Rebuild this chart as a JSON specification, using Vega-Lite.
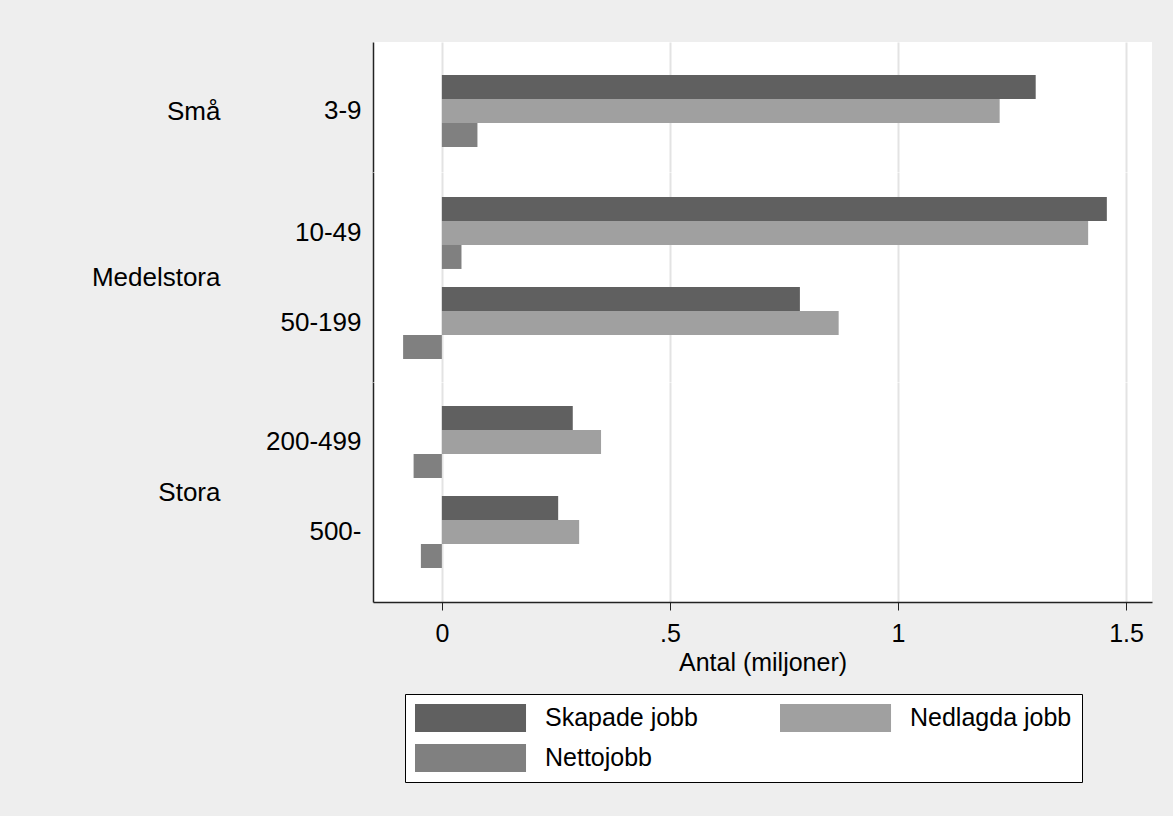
{
  "$schema": "https://vega.github.io/schema/vega-lite/v6.json",
  "background": "#eeeeee",
  "padding": {"left": 91, "top": 42, "right": 21, "bottom": 34},
  "config": {
    "font": "Liberation Sans",
    "view": {"stroke": null, "fill": "white"},
    "concat": {"spacing": 0},
    "axisY": {"ticks": false, "domainColor": "#222222", "domainWidth": 1.5, "labelFontSize": 26, "labelColor": "black", "labelPadding": 12, "labelAlign": "right", "titleAngle": 0, "titleAlign": "right", "titleBaseline": "middle", "titleFontSize": 26, "titleFontWeight": "normal", "titleColor": "black", "titleX": -153}
  },
  "datasets": {
    "jobs": [
      {"storlek": "3-9", "grupp": "Små", "serie": "Skapade jobb", "antal": 1.302},
      {"storlek": "3-9", "grupp": "Små", "serie": "Nedlagda jobb", "antal": 1.223},
      {"storlek": "3-9", "grupp": "Små", "serie": "Nettojobb", "antal": 0.078},
      {"storlek": "10-49", "grupp": "Medelstora", "serie": "Skapade jobb", "antal": 1.458},
      {"storlek": "10-49", "grupp": "Medelstora", "serie": "Nedlagda jobb", "antal": 1.417},
      {"storlek": "10-49", "grupp": "Medelstora", "serie": "Nettojobb", "antal": 0.043},
      {"storlek": "50-199", "grupp": "Medelstora", "serie": "Skapade jobb", "antal": 0.785},
      {"storlek": "50-199", "grupp": "Medelstora", "serie": "Nedlagda jobb", "antal": 0.870},
      {"storlek": "50-199", "grupp": "Medelstora", "serie": "Nettojobb", "antal": -0.085},
      {"storlek": "200-499", "grupp": "Stora", "serie": "Skapade jobb", "antal": 0.287},
      {"storlek": "200-499", "grupp": "Stora", "serie": "Nedlagda jobb", "antal": 0.349},
      {"storlek": "200-499", "grupp": "Stora", "serie": "Nettojobb", "antal": -0.062},
      {"storlek": "500-", "grupp": "Stora", "serie": "Skapade jobb", "antal": 0.255},
      {"storlek": "500-", "grupp": "Stora", "serie": "Nedlagda jobb", "antal": 0.301},
      {"storlek": "500-", "grupp": "Stora", "serie": "Nettojobb", "antal": -0.046}
    ]
  },
  "vconcat": [
    {
      "width": 779, "height": 130,
      "data": {"name": "jobs"},
      "transform": [{"filter": "datum.grupp === 'Små'"}],
      "mark": {"type": "bar"},
      "encoding": {
        "y": {"field": "storlek", "type": "nominal", "sort": ["3-9"], "scale": {"paddingInner": 0.2, "paddingOuter": 0.3222, "align": 0.569}, "axis": {"title": "Små", "titleY": 69}},
        "yOffset": {"field": "serie", "type": "nominal", "sort": ["Skapade jobb", "Nedlagda jobb", "Nettojobb"], "scale": {"paddingInner": 0, "paddingOuter": 0}},
        "x": {"field": "antal", "type": "quantitative", "scale": {"domain": [-0.151, 1.557], "nice": false, "zero": false}, "axis": {"values": [0, 0.5, 1, 1.5], "labels": false, "ticks": false, "domain": false, "title": null, "grid": true, "gridColor": "#e3e3e3", "gridWidth": 2}},
        "x2": {"datum": 0},
        "color": {"field": "serie", "type": "nominal", "sort": ["Skapade jobb", "Nedlagda jobb", "Nettojobb"], "scale": {"domain": ["Skapade jobb", "Nedlagda jobb", "Nettojobb"], "range": ["#606060", "#a0a0a0", "#808080"]}, "legend": {"orient": "none", "legendX": 32, "legendY": 652, "columns": 2, "direction": "horizontal", "title": null, "symbolType": "M-1,-1H6.93V1H-1Z", "symbolSize": 784, "symbolStrokeWidth": 0, "symbolOpacity": 1, "labelFontSize": 25, "labelColor": "black", "labelLimit": 400, "labelOffset": 102, "columnPadding": 82, "rowPadding": 12, "padding": 10, "strokeColor": "black", "fillColor": "white"}}
      }
    },
    {
      "width": 779, "height": 210,
      "data": {"name": "jobs"},
      "transform": [{"filter": "datum.grupp === 'Medelstora'"}],
      "mark": {"type": "bar"},
      "encoding": {
        "y": {"field": "storlek", "type": "nominal", "sort": ["10-49", "50-199"], "scale": {"paddingInner": 0.2, "paddingOuter": 0.2667, "align": 0.52}, "axis": {"title": "Medelstora", "titleY": 105}},
        "yOffset": {"field": "serie", "type": "nominal", "sort": ["Skapade jobb", "Nedlagda jobb", "Nettojobb"], "scale": {"paddingInner": 0, "paddingOuter": 0}},
        "x": {"field": "antal", "type": "quantitative", "scale": {"domain": [-0.151, 1.557], "nice": false, "zero": false}, "axis": {"values": [0, 0.5, 1, 1.5], "labels": false, "ticks": false, "domain": false, "title": null, "grid": true, "gridColor": "#e3e3e3", "gridWidth": 2}},
        "x2": {"datum": 0},
        "color": {"field": "serie", "type": "nominal", "sort": ["Skapade jobb", "Nedlagda jobb", "Nettojobb"], "scale": {"domain": ["Skapade jobb", "Nedlagda jobb", "Nettojobb"], "range": ["#606060", "#a0a0a0", "#808080"]}}
      }
    },
    {
      "width": 779, "height": 220,
      "data": {"name": "jobs"},
      "transform": [{"filter": "datum.grupp === 'Stora'"}],
      "mark": {"type": "bar"},
      "encoding": {
        "y": {"field": "storlek", "type": "nominal", "sort": ["200-499", "500-"], "scale": {"paddingInner": 0.2, "paddingOuter": 0.3222, "align": 0.414}, "axis": {"title": "Stora", "titleY": 110}},
        "yOffset": {"field": "serie", "type": "nominal", "sort": ["Skapade jobb", "Nedlagda jobb", "Nettojobb"], "scale": {"paddingInner": 0, "paddingOuter": 0}},
        "x": {"field": "antal", "type": "quantitative", "scale": {"domain": [-0.151, 1.557], "nice": false, "zero": false}, "axis": {"values": [0, 0.5, 1, 1.5], "grid": true, "gridColor": "#e3e3e3", "gridWidth": 2, "title": "Antal (miljoner)", "titleFontSize": 25, "titleFontWeight": "normal", "titleColor": "black", "titlePadding": 4, "labelFontSize": 25, "labelColor": "black", "labelPadding": 11, "tickSize": 8, "tickColor": "#222222", "domainColor": "#222222", "domainWidth": 1.5, "labelExpr": "datum.value == 0 ? '0' : datum.value == 0.5 ? '.5' : datum.value == 1 ? '1' : '1.5'"}},
        "x2": {"datum": 0},
        "color": {"field": "serie", "type": "nominal", "sort": ["Skapade jobb", "Nedlagda jobb", "Nettojobb"], "scale": {"domain": ["Skapade jobb", "Nedlagda jobb", "Nettojobb"], "range": ["#606060", "#a0a0a0", "#808080"]}}
      }
    }
  ],
  "resolve": {"scale": {"y": "independent"}}
}
